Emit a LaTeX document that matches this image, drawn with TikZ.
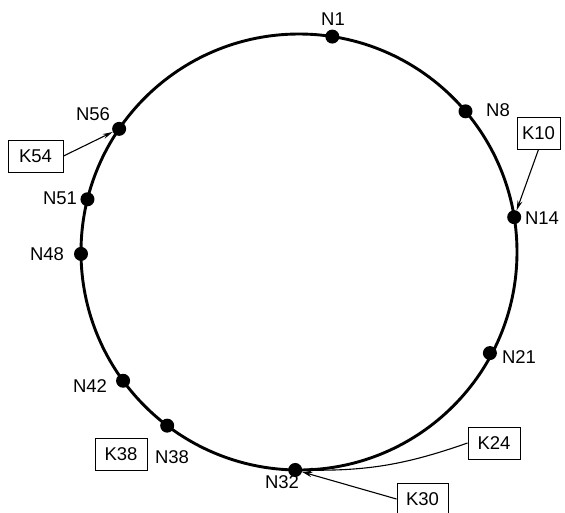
\documentclass[tikz,border=0pt]{standalone}
\usepackage{fontspec}
\setmainfont{Liberation Sans}
\usetikzlibrary{arrows.meta}
\begin{document}
\begin{tikzpicture}[x=1pt,y=-1pt,
  ring/.style={line width=2.9pt},
  dot/.style={circle,fill=black,inner sep=0pt,minimum size=14pt},
  lbl/.style={inner sep=0pt,font=\fontsize{18.5}{20}\selectfont},
  key/.style={draw,line width=1pt,inner sep=0pt,minimum height=32pt,font=\fontsize{18.5}{20}\selectfont},
  ptr/.style={line width=1.1pt,-{Stealth[length=10pt,width=5pt]}}]
\useasboundingbox (0,0) rectangle (565,512);
\coordinate (c) at (299,252);
\draw[ring] (c) circle[radius=218pt];
% ring nodes
\node[dot] (n1)  at ([shift={(81.2:218pt)}]c) {};
\node[dot] (n8)  at ([shift={(40.2:218pt)}]c) {};
\node[dot] (n14) at ([shift={(9.2:218pt)}]c) {};
\node[dot] (n21) at ([shift={(-27.9:216pt)}]c) {};
\node[dot] (n32) at ([shift={(-91.0:218pt)}]c) {};
\node[dot] (n38) at ([shift={(-127.2:218pt)}]c) {};
\node[dot] (n42) at ([shift={(-143.8:218pt)}]c) {};
\node[dot] (n48) at ([shift={(180.5:218pt)}]c) {};
\node[dot] (n51) at ([shift={(166.0:218pt)}]c) {};
\node[dot] (n56) at ([shift={(145.6:218pt)}]c) {};
% labels
\node[lbl] (l1)  at (333,19)  {N1};
\node[lbl] (l8)  at (498,110) {N8};
\node[lbl] (l14) at (542,218) {N14};
\node[lbl] (l21) at (519,357) {N21};
\node[lbl] (l32) at (282,482) {N32};
\node[lbl] (l38) at (172,457) {N38};
\node[lbl] (l42) at (90,386)  {N42};
\node[lbl] (l48) at (47,254)  {N48};
\node[lbl] (l51) at (60,198)  {N51};
\node[lbl] (l56) at (93,114)  {N56};
% keys
\node[key,minimum width=55pt] (k54) at (35.5,156) {K54};
\node[key,minimum width=43pt] (k10) at (538.5,133) {K10};
\node[key,minimum width=52pt] (k24) at (494,443) {K24};
\node[key,minimum width=51pt] (k30) at (422.5,499) {K30};
\node[key,minimum width=52pt] (k38) at (121,454) {K38};
% pointers
\draw[ptr] (k54.east) -- (n56);
\draw[ptr] (k10.south) -- (n14);
\draw[ptr] (k24.west) to[bend left=10] (n32);
\draw[ptr] (k30.west) -- (n32);
\end{tikzpicture}
\end{document}
